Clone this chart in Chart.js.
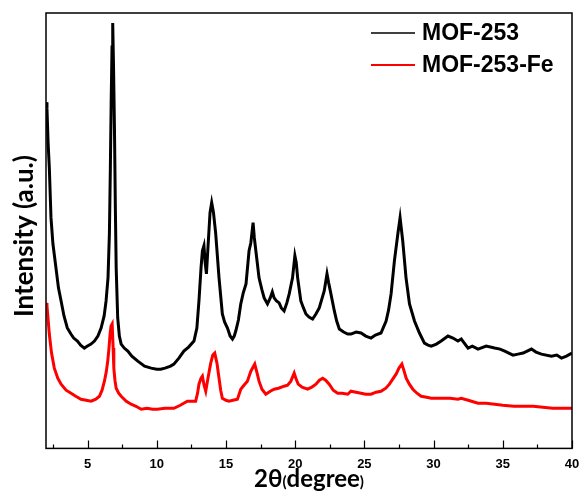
<!DOCTYPE html>
<html>
<head>
<meta charset="utf-8">
<script src="https://cdn.jsdelivr.net/npm/chart.js@4.4.1/dist/chart.umd.min.js"></script>
<style>
  html, body { margin: 0; padding: 0; background: #fff; }
</style>
</head>
<body>
<canvas id="xrdChart" width="582" height="494"></canvas>
<script>
// XRD patterns, 2theta in degrees, intensity in arbitrary units
const mofAngles = [2.0, 2.07, 2.15, 2.24, 2.36, 2.5, 2.72, 2.9, 3.09, 3.3, 3.54, 3.8, 4.0, 4.27, 4.5, 4.77, 5.0, 5.25, 5.5, 5.75, 5.98, 6.2, 6.34, 6.48, 6.58, 6.65, 6.71, 6.77, 6.82, 6.88, 6.95, 7.01, 7.07, 7.18, 7.3, 7.43, 7.65, 7.91, 8.2, 8.63, 9.12, 9.6, 10.0, 10.28, 10.6, 11.0, 11.24, 11.6, 11.96, 12.3, 12.69, 12.9, 13.05, 13.2, 13.3, 13.41, 13.5, 13.59, 13.7, 13.85, 13.97, 14.1, 14.26, 14.5, 14.74, 14.9, 15.11, 15.3, 15.47, 15.6, 15.71, 15.9, 16.07, 16.25, 16.45, 16.67, 16.8, 16.96, 17.05, 17.16, 17.39, 17.6, 17.76, 18.0, 18.2, 18.35, 18.48, 18.65, 18.84, 19.0, 19.2, 19.4, 19.57, 19.81, 19.98, 20.08, 20.18, 20.41, 20.6, 20.78, 21.0, 21.26, 21.5, 21.74, 22.1, 22.3, 22.42, 22.54, 22.83, 23.0, 23.19, 23.5, 23.8, 24.03, 24.4, 24.76, 25.1, 25.48, 25.8, 26.2, 26.57, 26.75, 26.93, 27.17, 27.42, 27.58, 27.77, 28.01, 28.26, 28.62, 28.98, 29.34, 29.6, 29.83, 30.2, 30.55, 31.04, 31.4, 31.76, 32.0, 32.49, 32.8, 33.21, 33.8, 34.41, 34.8, 35.14, 35.74, 36.1, 36.47, 37.07, 37.4, 37.79, 38.51, 38.9, 39.24, 39.6, 40.0];
const mofCounts = [345, 339, 305, 280, 230, 204, 180, 160, 147, 132, 120, 114, 110, 107, 103, 100, 102, 104, 107, 112, 120, 132, 147, 170, 214, 280, 347, 400, 424, 380, 314, 240, 180, 130, 112, 104, 100, 97, 92, 87, 82, 80, 79, 79, 80, 82, 84, 90, 97, 101, 107, 120, 147, 180, 197, 202, 185, 174, 200, 235, 245, 235, 214, 170, 134, 126, 120, 112, 109, 112, 117, 128, 144, 155, 164, 197, 205, 225, 210, 197, 170, 158, 150, 144, 150, 156, 150, 147, 145, 140, 137, 145, 154, 170, 192, 185, 170, 147, 140, 134, 131, 129, 134, 140, 157, 174, 165, 157, 137, 127, 119, 116, 114, 114, 116, 115, 112, 110, 113, 115, 127, 138, 154, 187, 214, 230, 207, 170, 144, 127, 115, 105, 103, 102, 104, 107, 112, 110, 107, 109, 100, 102, 99, 102, 100, 99, 97, 93, 94, 95, 99, 96, 94, 92, 93, 90, 92, 95];

const feAngles = [2.0, 2.07, 2.24, 2.4, 2.6, 2.85, 3.09, 3.45, 3.81, 4.15, 4.53, 4.9, 5.26, 5.6, 5.86, 6.05, 6.22, 6.35, 6.46, 6.55, 6.63, 6.7, 6.78, 6.85, 6.9, 6.98, 7.07, 7.25, 7.43, 7.8, 8.15, 8.5, 8.88, 9.3, 9.7, 10.04, 10.6, 11.24, 11.7, 12.21, 12.55, 12.81, 12.95, 13.05, 13.2, 13.3, 13.42, 13.54, 13.7, 13.9, 14.05, 14.19, 14.35, 14.5, 14.62, 14.74, 15.0, 15.22, 15.5, 15.83, 16.07, 16.3, 16.55, 16.8, 17.08, 17.25, 17.39, 17.6, 17.88, 18.2, 18.48, 18.8, 19.2, 19.45, 19.69, 19.93, 20.05, 20.22, 20.5, 20.9, 21.2, 21.5, 21.75, 21.99, 22.2, 22.46, 22.75, 23.07, 23.4, 23.8, 24.03, 24.4, 24.76, 25.1, 25.48, 25.85, 26.2, 26.55, 26.81, 27.05, 27.29, 27.5, 27.71, 27.85, 28.02, 28.25, 28.5, 28.8, 29.1, 29.5, 29.83, 30.3, 30.75, 31.2, 31.76, 32.0, 32.5, 33.21, 33.8, 34.41, 35.0, 35.8, 36.5, 37.2, 37.9, 38.6, 39.3, 40.0];
const feCounts = [145, 142, 114, 95, 80, 70, 64, 58, 55, 52, 49, 48, 47, 49, 52, 58, 67, 76, 87, 100, 114, 122, 124, 100, 80, 68, 60, 55, 52, 47, 44, 42, 39, 40, 39, 39, 40, 40, 43, 47, 47, 47, 55, 64, 70, 72, 63, 57, 70, 85, 93, 95, 85, 70, 58, 50, 48, 47, 48, 49, 59, 63, 67, 77, 84, 75, 67, 59, 54, 57, 59, 60, 62, 63, 67, 75, 70, 64, 61, 59, 61, 64, 68, 70, 68, 64, 58, 55, 55, 54, 57, 56, 55, 54, 54, 56, 57, 60, 64, 69, 74, 80, 84, 78, 70, 64, 59, 55, 52, 51, 50, 50, 50, 50, 49, 50, 48, 45, 45, 44, 43, 42, 42, 42, 41, 40, 40, 40];

const seriesNames = ['MOF-253', 'MOF-253-Fe'];
const seriesColors = ['#000000', '#ff0000'];
const xTickValues = [5, 10, 15, 20, 25, 30, 35, 40];
const xMinorValues = [2.5, 7.5, 12.5, 17.5, 22.5, 27.5, 32.5, 37.5];

function toPoints(xs, ys) {
    return xs.map((x, i) => ({ x: x, y: ys[i] }));
}

// frame, inward ticks, legend and axis titles
const decorations = {
    id: 'decorations',
    afterDraw(chart) {
        const ctx = chart.ctx;
        const area = chart.chartArea;
        const xScale = chart.scales.x;
        ctx.save();
        ctx.strokeStyle = '#000';
        ctx.lineWidth = 1.5;
        ctx.strokeRect(area.left, area.top, area.right - area.left, area.bottom - area.top);

        ctx.lineWidth = 1.2;
        ctx.beginPath();
        xTickValues.forEach(v => {
            const px = Math.round(xScale.getPixelForValue(v)) + 0.5;
            ctx.moveTo(px, area.bottom);
            ctx.lineTo(px, area.bottom - 8);
        });
        xMinorValues.forEach(v => {
            const px = Math.round(xScale.getPixelForValue(v)) + 0.5;
            ctx.moveTo(px, area.bottom);
            ctx.lineTo(px, area.bottom - 4);
        });
        ctx.stroke();

        // legend
        ctx.font = 'bold 23px "Liberation Sans", Arial, sans-serif';
        ctx.textBaseline = 'middle';
        ctx.textAlign = 'left';
        const rowY = [33, 65];
        chart.data.datasets.forEach((ds, i) => {
            ctx.strokeStyle = ds.borderColor;
            ctx.lineWidth = i === 0 ? 1.5 : 2;
            ctx.beginPath();
            ctx.moveTo(371, rowY[i]);
            ctx.lineTo(415, rowY[i]);
            ctx.stroke();
            ctx.fillStyle = '#000';
            ctx.fillText(ds.label, 422, rowY[i] + 1);
        });

        // y axis title
        ctx.save();
        ctx.translate(33, 236);
        ctx.rotate(-Math.PI / 2);
        ctx.textAlign = 'center';
        ctx.textBaseline = 'alphabetic';
        ctx.font = 'bold 26px Lato, sans-serif';
        ctx.fillText('Intensity (a.u.)', 0, 0);
        ctx.restore();

        // x axis title with small parentheses
        const parts = [
            { t: '2θ', size: 24 },
            { t: '(', size: 15 },
            { t: 'degree', size: 24 },
            { t: ')', size: 15 }
        ];
        let total = 0;
        parts.forEach(p => {
            ctx.font = 'bold ' + p.size + 'px Lato, sans-serif';
            p.w = ctx.measureText(p.t).width;
            total += p.w;
        });
        let x = (area.left + area.right) / 2 - total / 2;
        ctx.textAlign = 'left';
        ctx.textBaseline = 'alphabetic';
        ctx.fillStyle = '#000';
        parts.forEach(p => {
            ctx.font = 'bold ' + p.size + 'px Lato, sans-serif';
            ctx.fillText(p.t, x, 487);
            x += p.w;
        });
        ctx.restore();
    }
};

const ctx = document.getElementById('xrdChart').getContext('2d');
const xrdChart = new Chart(ctx, {
    type: 'line',
    data: {
        datasets: [{
            label: seriesNames[0],
            data: toPoints(mofAngles, mofCounts),
            borderColor: seriesColors[0],
            borderWidth: 3,
            pointRadius: 0,
            tension: 0
        }, {
            label: seriesNames[1],
            data: toPoints(feAngles, feCounts),
            borderColor: seriesColors[1],
            borderWidth: 3,
            pointRadius: 0,
            tension: 0
        }]
    },
    options: {
        responsive: false,
        animation: false,
        layout: {
            padding: { top: 13, right: 10, bottom: 14, left: 46 }
        },
        plugins: {
            legend: { display: false },
            tooltip: { enabled: false }
        },
        scales: {
            x: {
                type: 'linear',
                min: 2,
                max: 40,
                afterBuildTicks: scale => {
                    scale.ticks = xTickValues.map(v => ({ value: v }));
                },
                afterFit: scale => {
                    // let the last label hang past the frame
                    scale.paddingRight = 0;
                },
                grid: { display: false, drawTicks: false },
                border: { display: false },
                ticks: {
                    padding: 8,
                    color: '#000',
                    font: { family: '"Liberation Sans", Arial, sans-serif', size: 13, weight: 'bold' },
                    maxRotation: 0
                }
            },
            y: {
                display: false,
                min: 0,
                max: 434
            }
        }
    },
    plugins: [decorations]
});
</script>
</body>
</html>
